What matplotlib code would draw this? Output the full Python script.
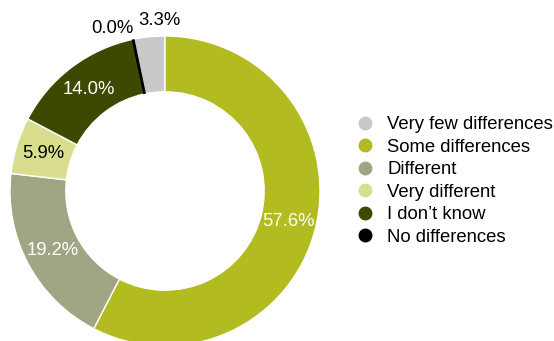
import matplotlib.pyplot as plt
import numpy as np
from matplotlib.lines import Line2D

plt.rcParams['font.family'] = ['Liberation Sans', 'DejaVu Sans']

categories = ['Very few differences', 'Some differences', 'Different',
              'Very different', "I don\u2019t know", 'No differences']
values = [3.3, 57.6, 19.2, 5.9, 14.0, 0.0]
colors = ['#c8c9cb', '#b2bb1f', '#a0a683', '#d9de8f', '#3d4800', '#000000']
label_colors = ['black', 'white', 'white', 'black', 'white', 'black']

fig = plt.figure(figsize=(5.54, 3.41), dpi=100)
ax = fig.add_axes([10 / 554, -5 / 341, 310 / 554, 310 / 341])

total = sum(values)
start = 90 + values[0] / total * 360  # first slice ends at 12 o'clock

wedges, _ = ax.pie(values, colors=colors, startangle=start, counterclock=False,
                   radius=1.0,
                   wedgeprops=dict(width=0.36, edgecolor='white', linewidth=1))
# the empty "No differences" slice is shown as a thin black stroke
wedges[-1].set_edgecolor('black')
wedges[-1].set_linewidth(2)
wedges[-1].set_zorder(5)

# percentage labels
for i, w in enumerate(wedges):
    mid = np.deg2rad((w.theta1 + w.theta2) / 2)
    txt = '%.1f%%' % values[i]
    if values[i] < 4:
        # small slices get their label outside the ring
        shift = {0: -4, 5: 6}[i]
        mid = mid + np.deg2rad(shift)
        r = 1.10
    else:
        r = 0.82
    ax.text(r * np.cos(mid), r * np.sin(mid), txt, ha='center', va='center',
            color=label_colors[i], fontsize=13.3)

ax.set_xlim(-1, 1)
ax.set_ylim(-1, 1)
ax.set_aspect('equal')
ax.axis('off')

handles = [Line2D([], [], marker='o', linestyle='', markersize=9,
                  markerfacecolor=c, markeredgecolor=c) for c in colors]
fig.legend(handles, categories, loc='center left',
           bbox_to_anchor=(356 / 554, 1 - 181 / 341), frameon=False,
           fontsize=13.3, handlelength=1.0, handletextpad=0.69,
           labelspacing=0.30, borderpad=0, borderaxespad=0)

fig.savefig('out.png', dpi=100)
